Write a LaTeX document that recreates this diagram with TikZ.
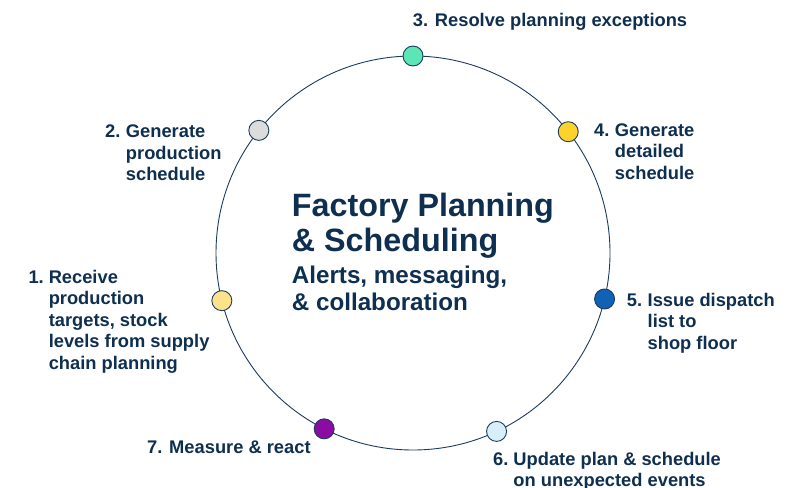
\documentclass[tikz,border=0pt]{standalone}
\usepackage{fontspec}
\setmainfont{Liberation Sans}
\usetikzlibrary{calc}
\definecolor{txt}{HTML}{0E2F4F}
\definecolor{ring}{HTML}{1C3B5E}
\definecolor{cmint}{HTML}{5DE6B5}
\definecolor{cgold}{HTML}{FDD22B}
\definecolor{cblue}{HTML}{0F62B4}
\definecolor{cpale}{HTML}{D8EEF9}
\definecolor{cpurple}{HTML}{8A0CA3}
\definecolor{cyellow}{HTML}{FCE38A}
\definecolor{cgrey}{HTML}{DCDCDC}
\begin{document}
\begin{tikzpicture}[x=1pt,y=-1pt,
  dot/.style={circle,draw=ring,line width=0.9pt,minimum size=20pt,inner sep=0pt},
  lbl/.style={anchor=base west,inner sep=0pt,text=txt,font=\fontsize{18.3}{21.5}\selectfont\bfseries}]
\useasboundingbox (0,0) rectangle (810,487);
\coordinate (c) at (413,253);
\draw[ring,line width=0.9pt] (c) circle[radius=197pt];
\node[dot,fill=cmint]   (d3) at ($(c)+(-90:197)$) {};
\node[dot,fill=cgold]   (d4) at ($(c)+(-38:197)$) {};
\node[dot,fill=cblue]   (d5) at ($(c)+(13.5:197)$) {};
\node[dot,fill=cpale]   (d6) at ($(c)+(64.9:197)$) {};
\node[dot,fill=cpurple] (d7) at ($(c)+(116.8:197)$) {};
\node[dot,fill=cyellow] (d1) at ($(c)+(166:197)$) {};
\node[dot,fill=cgrey]   (d2) at ($(c)+(-141.5:197)$) {};

\node[anchor=base west,inner sep=0pt,text=txt,font=\fontsize{32.3}{35}\selectfont\bfseries] (title) at (291.7,216.7)
  {\begin{tabular}[t]{@{}l@{}}Factory Planning\\ \& Scheduling\end{tabular}};
\node[anchor=base west,inner sep=0pt,text=txt,font=\fontsize{24.2}{27}\selectfont\bfseries] (sub) at (291.7,283.3)
  {\begin{tabular}[t]{@{}l@{}}Alerts, messaging,\\ \& collaboration\end{tabular}};

\node[lbl] (l3) at (412.7,26.7) {3. Resolve planning exceptions};
\node[lbl] (l2) at (105,137.7)
  {\begin{tabular}[t]{@{}l@{\hspace{5.5pt}}l@{}}2. & Generate\\ & production\\ & schedule\end{tabular}};
\node[lbl] (l4) at (594,136)
  {\begin{tabular}[t]{@{}l@{\hspace{5.5pt}}l@{}}4. & Generate\\ & detailed\\ & schedule\end{tabular}};
\node[lbl] (l5) at (626.7,306)
  {\begin{tabular}[t]{@{}l@{\hspace{5.5pt}}l@{}}5. & Issue dispatch\\ & list to\\ & shop floor\end{tabular}};
\node[lbl] (l1) at (28.3,283.3)
  {\begin{tabular}[t]{@{}l@{\hspace{5pt}}l@{}}1. & Receive\\ & production\\ & targets, stock\\ & levels from supply\\ & chain planning\end{tabular}};
\node[lbl] (l7) at (147,453) {7. Measure \& react};
\node[lbl] (l6) at (493,465)
  {\begin{tabular}[t]{@{}l@{\hspace{5pt}}l@{}}6. & Update plan \& schedule\\ & on unexpected events\end{tabular}};
\end{tikzpicture}
\end{document}
